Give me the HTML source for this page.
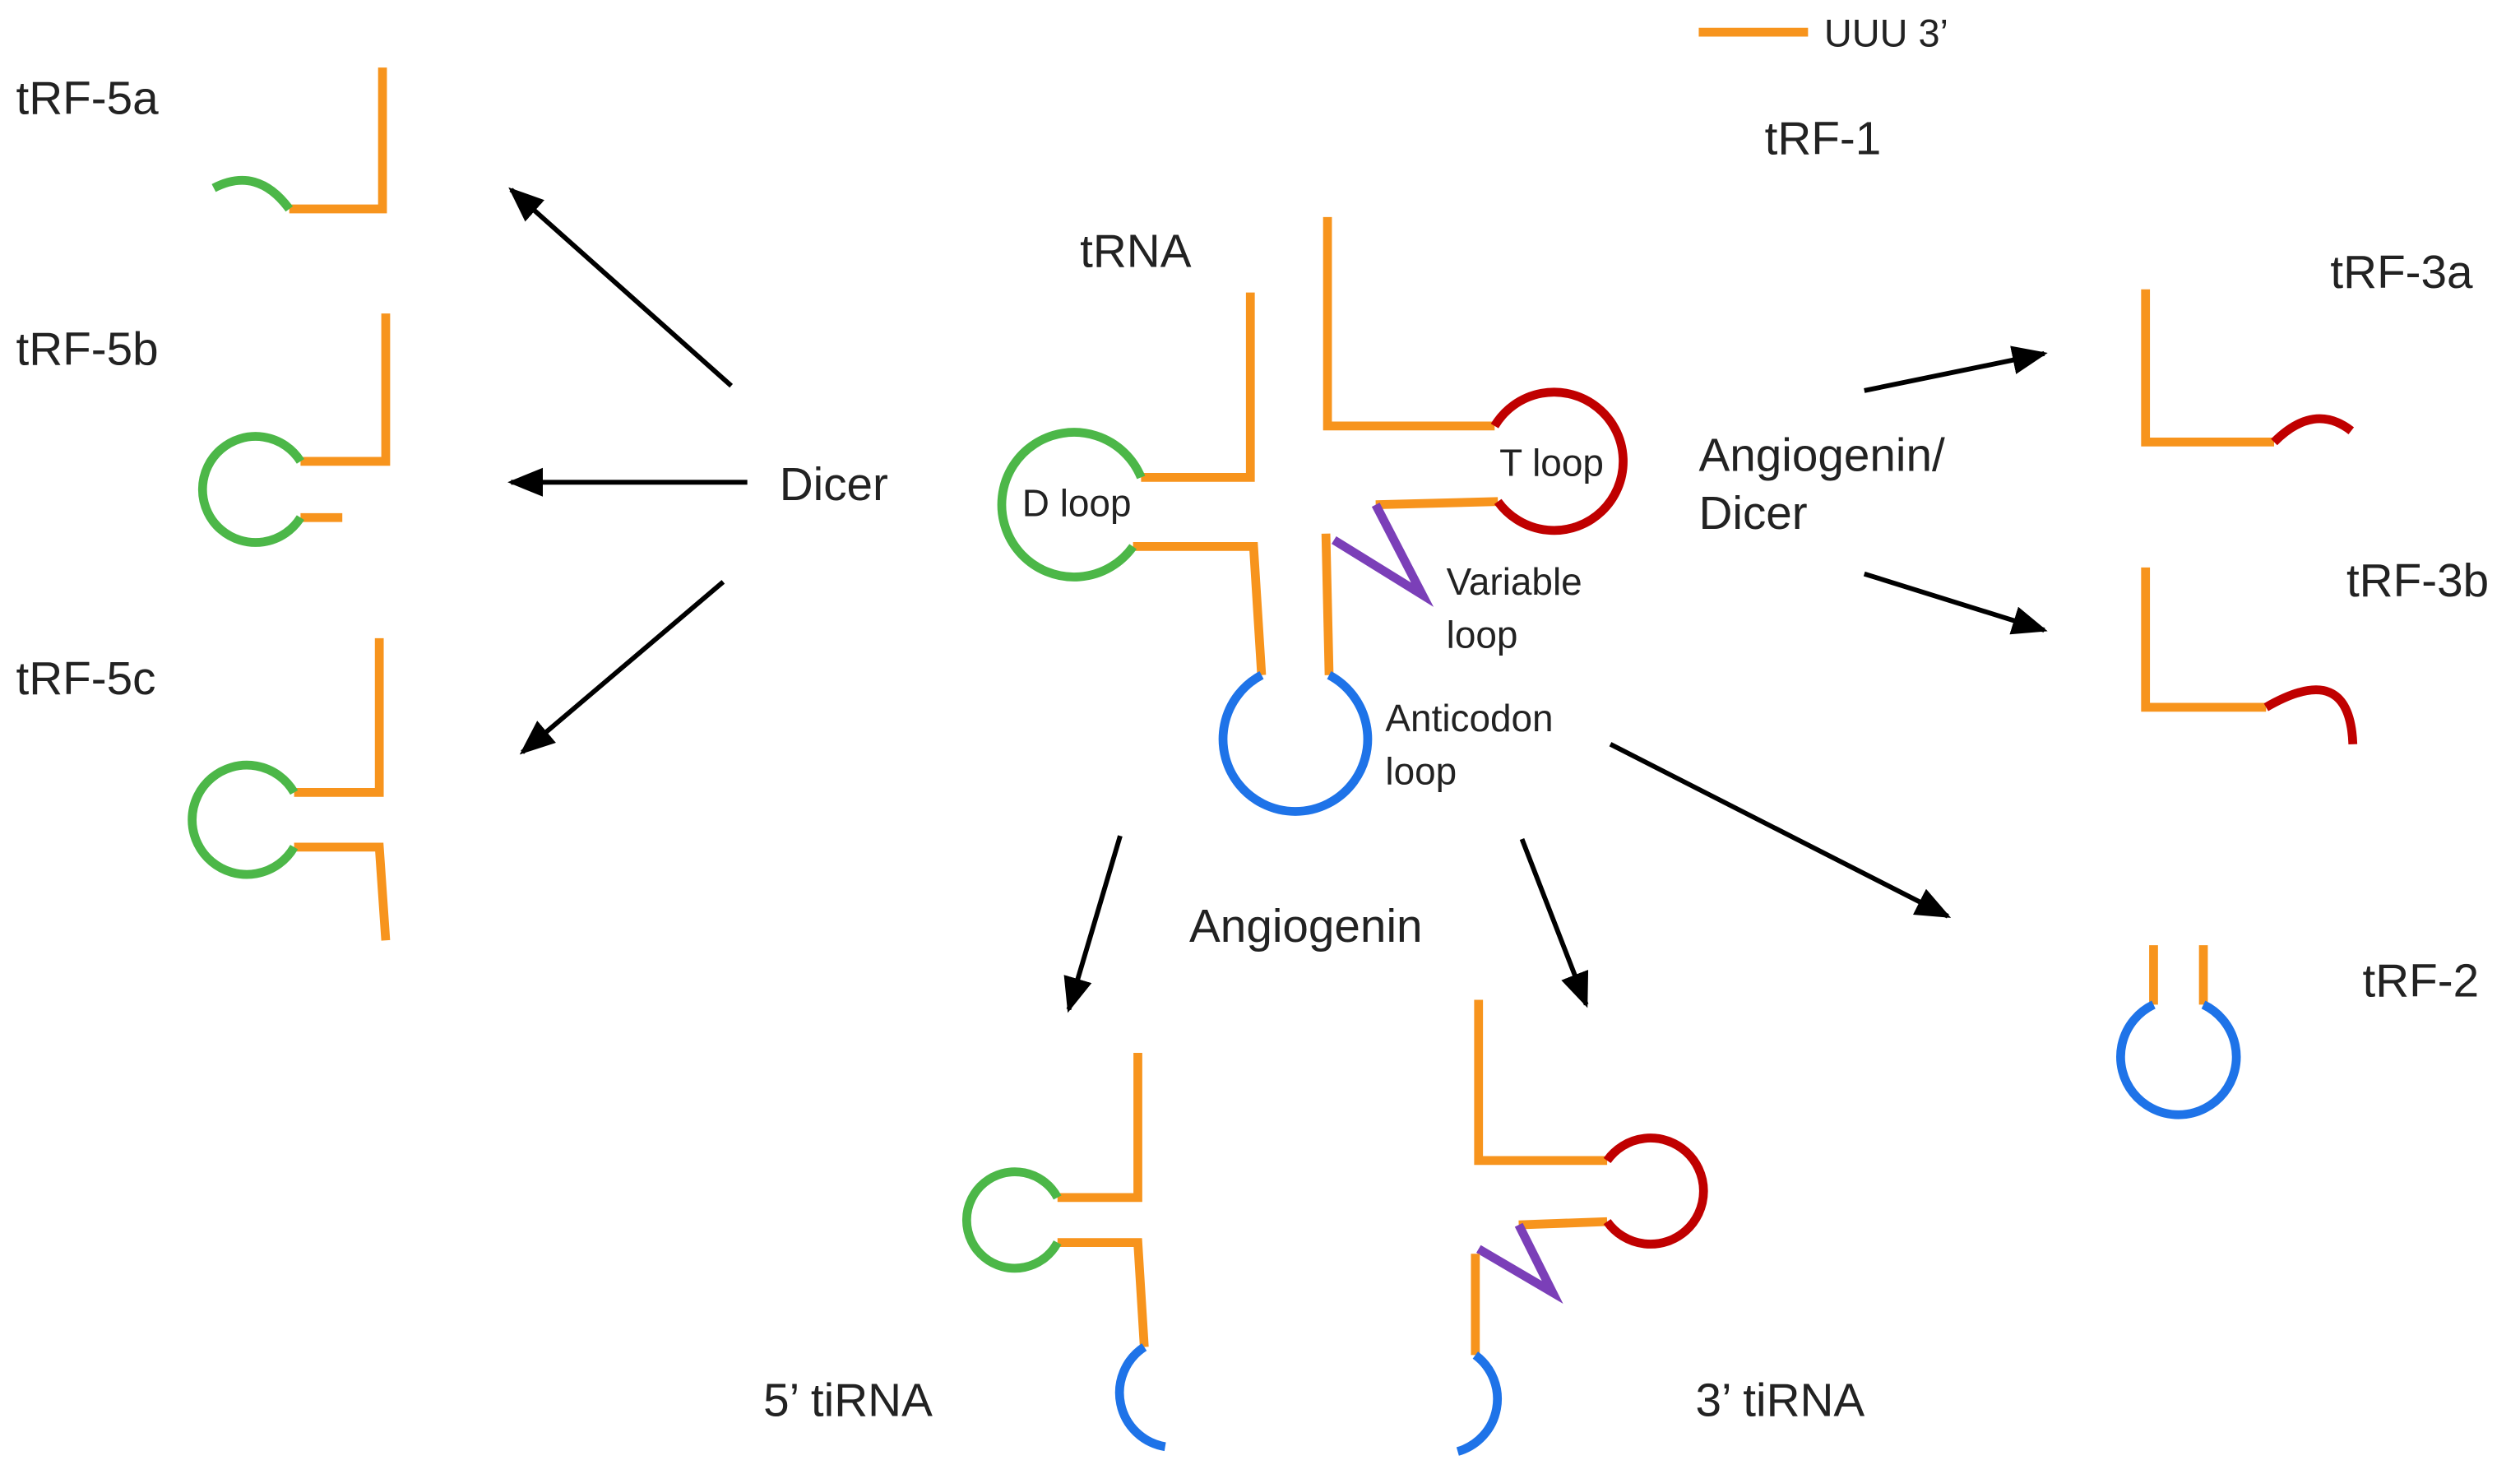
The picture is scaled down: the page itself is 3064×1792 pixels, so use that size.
<!DOCTYPE html>
<html><head><meta charset="utf-8"><style>
html,body{margin:0;padding:0;background:#fff;}
svg{display:block}
text{font-family:"Liberation Sans",sans-serif;fill:#222;}
</style></head><body>
<svg width="3064" height="1792" viewBox="0 0 1568 917" preserveAspectRatio="none" xmlns="http://www.w3.org/2000/svg">
<defs>
<marker id="a" viewBox="0 0 10 10" refX="9" refY="5" markerWidth="22" markerHeight="18" markerUnits="userSpaceOnUse" orient="auto" preserveAspectRatio="none">
<path d="M0,0 L10,5 L0,10 z" fill="#000"/>
</marker>
</defs>
<g fill="none" stroke-width="5.5" stroke-linecap="butt">
<line x1="1057" y1="20" x2="1125" y2="20" stroke="#f7941d"/>
<g stroke="#f7941d">
<polyline points="778,182 778,297 710,297"/>
<polyline points="705,340 780,340 785,420"/>
<polyline points="826,135 826,265 930,265"/>
<polyline points="856,314 932,312"/>
<polyline points="825,332 827,420"/>
</g>
<path d="M710,297 A45,45 0 1 0 705,340" stroke="#4cb748"/>
<path d="M930,265 A43,43 0 1 1 932,312" stroke="#c00000"/>
<polyline points="856,314 885,370 830,336" stroke="#7b3fb8"/>
<path d="M785,420 A45,45 0 1 0 827,420" stroke="#1e73e8"/>
<polyline points="238,42 238,130 180,130" stroke="#f7941d"/>
<path d="M133,117 Q160,103 180,130" stroke="#4cb748"/>
<polyline points="240,195 240,287 187,287" stroke="#f7941d"/>
<line x1="187" y1="322" x2="213" y2="322" stroke="#f7941d"/>
<path d="M187,287 A33,33 0 1 0 187,322" stroke="#4cb748"/>
<polyline points="236,397 236,493 183,493" stroke="#f7941d"/>
<polyline points="183,527 236,527 240,585" stroke="#f7941d"/>
<path d="M183,493 A34,34 0 1 0 183,527" stroke="#4cb748"/>
<polyline points="1335,180 1335,275 1415,275" stroke="#f7941d"/>
<path d="M1415,275 Q1440,250 1463,268" stroke="#c00000"/>
<polyline points="1335,353 1335,440 1410,440" stroke="#f7941d"/>
<path d="M1410,440 Q1462,410 1464,463" stroke="#c00000"/>
<line x1="1340" y1="588" x2="1340" y2="625" stroke="#f7941d"/>
<line x1="1371" y1="588" x2="1371" y2="625" stroke="#f7941d"/>
<path d="M1340,625 A36,36 0 1 0 1371,625" stroke="#1e73e8"/>
<polyline points="708,655 708,745 658,745" stroke="#f7941d"/>
<polyline points="658,773 708,773 712,838" stroke="#f7941d"/>
<path d="M658,745 A30,30 0 1 0 658,773" stroke="#4cb748"/>
<path d="M712,838 A34,34 0 0 0 725,900" stroke="#1e73e8"/>
<polyline points="920,622 920,722 1000,722" stroke="#f7941d"/>
<polyline points="1000,760 945,762" stroke="#f7941d"/>
<path d="M1000,722 A33,33 0 1 1 1000,760" stroke="#c00000"/>
<polyline points="945,762 966,804 920,777" stroke="#7b3fb8"/>
<polyline points="918,780 918,843" stroke="#f7941d"/>
<path d="M918,843 A34,34 0 0 1 907,903" stroke="#1e73e8"/>
</g>
<g stroke="#000" stroke-width="3" marker-end="url(#a)">
<line x1="455" y1="240" x2="318" y2="118"/>
<line x1="465" y1="300" x2="318" y2="300"/>
<line x1="450" y1="362" x2="325" y2="468"/>
<line x1="1160" y1="243" x2="1272" y2="220"/>
<line x1="1160" y1="357" x2="1272" y2="392"/>
<line x1="1002" y1="463" x2="1212" y2="570"/>
<line x1="697" y1="520" x2="665" y2="628"/>
<line x1="947" y1="522" x2="987" y2="625"/>
</g>
<g font-size="29">
<text x="1135" y="29" font-size="24">UUU 3’</text>
<text x="1098" y="96">tRF-1</text>
<text x="672" y="166">tRNA</text>
<text x="10" y="71">tRF-5a</text>
<text x="10" y="227">tRF-5b</text>
<text x="10" y="432">tRF-5c</text>
<text x="485" y="311">Dicer</text>
<text x="1057" y="293">Angiogenin/</text>
<text x="1057" y="329">Dicer</text>
<text x="1450" y="179">tRF-3a</text>
<text x="1460" y="371">tRF-3b</text>
<text x="1470" y="620">tRF-2</text>
<text x="740" y="586">Angiogenin</text>
<text x="475" y="881">5’ tiRNA</text>
<text x="1055" y="881">3’ tiRNA</text>
</g>
<g font-size="23.5">
<text x="636" y="321">D loop</text>
<text x="933" y="296">T loop</text>
<text x="900" y="370">Variable</text>
<text x="900" y="403">loop</text>
<text x="862" y="455">Anticodon</text>
<text x="862" y="488">loop</text>
</g>
</svg>
</body></html>
